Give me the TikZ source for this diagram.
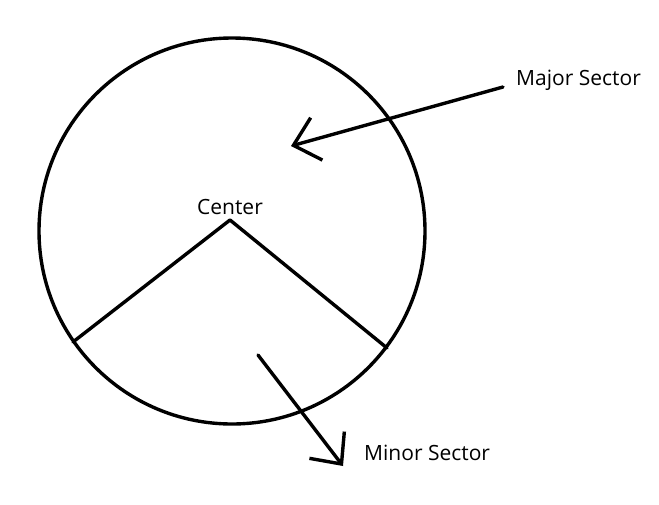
\documentclass[tikz,border=0pt]{standalone}
\usepackage{fontspec}
\setmainfont{Open Sans}
\usetikzlibrary{arrows.meta}
\tikzset{
  pen/.style={line width=3.4pt, line cap=round, line join=round},
  pointer/.style={pen, -{Straight Barb[length=24pt, width=44pt, line width=3.4pt]}},
  label/.style={font=\fontsize{21}{24}\selectfont, inner sep=0pt}
}
\begin{document}
\begin{tikzpicture}[x=1pt, y=-1pt]
    \useasboundingbox (0,0) rectangle (659,504);

    % Draw circle
    \coordinate (o) at (232,231);
    \draw[pen] (o) circle (193);

    % Draw center and radii
    \coordinate (c) at (230,220);
    \coordinate (p) at (73,342);
    \coordinate (q) at (387,348);
    \node[label, above=5pt] (center) at (c) {Center};
    \draw[pen] (p) -- (c) -- (q);

    % Draw labels with arrows
    \node[label, anchor=west] (major) at (516,80) {Major Sector};
    \node[label, anchor=west] (minor) at (364,453) {Minor Sector};
    \coordinate (a1) at (503,87);
    \coordinate (a2) at (291,146);
    \coordinate (b1) at (258,355);
    \coordinate (b2) at (343,466);
    \draw[pointer] (a1) -- (a2);
    \draw[pointer] (b1) -- (b2);
  \end{tikzpicture}
\end{document}
